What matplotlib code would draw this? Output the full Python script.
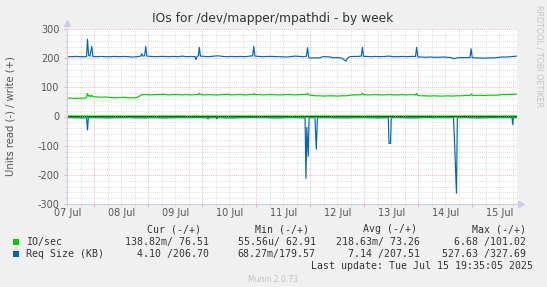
import matplotlib
matplotlib.use("Agg")
import matplotlib.pyplot as plt
from matplotlib.ticker import MultipleLocator, FixedLocator, NullFormatter
from matplotlib.patches import Rectangle

# ---------------- data ----------------
# time in hours since 07 Jul 00:00
t_start, t_end = 11.58, 211.58

wr_size_t = [11.6, 14, 16, 18, 20, 20.5, 20.9, 21.4, 22.0, 22.8, 23.3, 25, 27, 29, 31, 33, 35, 37, 39, 41, 43,
             44.6, 45.0, 45.5, 46.3, 46.8, 47.3, 49, 51, 53, 55, 57, 59, 61, 63, 65, 67, 68.7, 69.1, 69.5, 70.2,
             70.6, 71.1, 73, 75, 77, 79, 81, 83, 85, 87, 89, 91, 93, 94.3, 94.8, 95.3, 97, 99, 101, 103, 105,
             107, 109, 111, 113, 115, 117, 118.2, 118.7, 119.2, 120, 122, 124, 125.5, 127, 129, 130, 132, 134,
             135.8, 136.5, 137.5, 139, 141, 142.6, 143.1, 143.6, 145, 147, 149, 151, 153, 155, 157, 159, 161,
             163, 165, 166.7, 167.2, 167.7, 169, 171, 173, 175, 177, 179, 181, 182.5, 184, 185, 187, 189,
             190.9, 191.4, 191.9, 193, 195, 197, 199, 201, 203, 205, 207, 209, 211.5]
wr_size_v = [205, 205, 206, 205, 205, 206, 265, 210, 207, 240, 206, 205, 206, 205, 205, 206, 205, 206, 205, 204, 205,
             207, 215, 207, 208, 240, 207, 206, 205, 206, 206, 205, 206, 205, 207, 205, 206, 205, 195, 205, 208,
             237, 207, 206, 205, 207, 208, 206, 205, 206, 205, 206, 205, 207, 208, 240, 207, 206, 205, 206, 206, 205,
             205, 204, 205, 207, 206, 205, 207, 236, 203, 200, 201, 201, 205, 205, 204, 201, 202, 200,
             190, 200, 205, 206, 206, 207, 237, 206, 206, 205, 206, 205, 206, 207, 205, 205, 206,
             205, 206, 206, 237, 205, 204, 203, 204, 203, 203, 204, 203, 202, 198, 201, 202, 202,
             202, 232, 202, 201, 201, 200, 201, 201, 202, 204, 204, 205, 207]

wr_io_t = [11.6, 14, 16, 18, 20, 20.5, 20.9, 21.3, 21.8, 22.3, 22.8, 23.3, 25, 27, 29, 31, 33, 35, 37, 39, 41, 42.5,
           43.5, 44.5, 45, 47, 49, 51, 53, 55, 57, 59, 61, 63, 65, 67, 69, 70.2, 70.6, 71.1, 73, 75, 77, 79, 81,
           83, 85, 87, 89, 91, 93, 94.3, 94.8, 95.3, 97, 99, 101, 103, 105, 107, 109, 111, 113, 115, 117, 118.2,
           118.7, 119.2, 120, 122, 124, 126, 128, 130, 132, 134, 136, 137.5, 139, 141, 142.6, 143.1, 143.6, 145,
           147, 149, 151, 153, 155, 157, 159, 161, 163, 165, 166.7, 167.2, 167.7, 169, 171, 173, 175, 177, 179,
           181, 183, 185, 187, 189, 190.9, 191.4, 191.9, 193, 195, 197, 199, 201, 203, 205, 207, 209, 211.5]
wr_io_v = [63, 63, 62, 63, 63, 66, 79, 70, 72, 68, 73, 68, 67, 66, 67, 65, 64, 65, 66, 64, 64, 64,
           68, 72, 75, 75, 74, 75, 75, 76, 74, 75, 75, 74, 75, 74, 75, 75, 80, 75, 74, 75, 74, 74, 75,
           76, 74, 75, 75, 74, 75, 75, 79, 75, 75, 74, 75, 75, 74, 74, 75, 75, 74, 75, 75, 75,
           80, 74, 73, 71, 71, 70, 71, 71, 70, 71, 71, 73, 74, 74, 75, 80, 75, 74,
           74, 75, 74, 74, 75, 74, 74, 75, 74, 75, 74, 79, 72, 71, 71, 70, 71, 70, 70,
           71, 70, 71, 71, 72, 72, 77, 73, 72, 73, 72, 73, 73, 73, 75, 75, 76, 76.5]

rd_io_t = [11.6, 60, 110, 160, 211.5]
rd_io_v = [-0.2, -0.15, -0.3, -0.2, -0.14]

rd_size_t = [11.6, 14, 18, 20.5, 20.9, 21.3, 25, 30, 35, 40, 45, 50, 55, 60, 65, 70, 74.3, 74.5, 74.7, 78.2, 78.4,
             78.6, 85, 90, 95, 100, 105, 110, 115, 117.6, 118.0, 118.4, 119.0, 119.4, 122.0, 122.6, 123.1, 128,
             135, 140, 145, 150, 154.6, 154.9, 155.6, 155.9, 160, 165, 170, 175, 180, 183.6, 184.2, 184.9, 185.3,
             190, 195, 200, 205, 209.6, 209.9, 210.2, 211.5]
rd_size_v = [-4, -4, -5, -4, -46, -4, -4, -5, -4, -4, -5, -4, -5, -4, -4, -4, -4, -8, -4, -4, -8,
             -4, -5, -4, -4, -4, -5, -4, -4, -5, -212, -37, -137, -4, -4, -112, -4, -4,
             -5, -4, -4, -5, -4, -92, -92, -4, -4, -5, -4, -4, -4, -4, -120, -263, -4,
             -4, -5, -4, -4, -4, -28, -4, -4]

day_labels = ["07 Jul", "08 Jul", "09 Jul", "10 Jul", "11 Jul", "12 Jul", "13 Jul", "14 Jul", "15 Jul"]
y_ticks = [-300, -200, -100, 0, 100, 200, 300]

title = "IOs for /dev/mapper/mpathdi - by week"
ylabel = "Units read (-) / write (+)"
legend_headers = ["Cur (-/+)", "Min (-/+)", "Avg (-/+)", "Max (-/+)"]
legend_names = ["IO/sec", "Req Size (KB)"]
legend_colors = ["#00CC00", "#0066B3"]
legend_values = [
    ["138.82m/ 76.51", "55.56u/ 62.91", "218.63m/ 73.26", "6.68 /101.02"],
    ["4.10 /206.70", "68.27m/179.57", "7.14 /207.51", "527.63 /327.69"],
]
last_update = "Last update: Tue Jul 15 19:35:05 2025"
munin_ver = "Munin 2.0.73"
side_text = "RRDTOOL / TOBI OETIKER"

# ---------------- figure ----------------
W, H = 547, 287
fig = plt.figure(figsize=(W / 100, H / 100), dpi=100, facecolor="#F0F0F0")
ax = fig.add_axes([66.5 / W, 1 - 204 / H, 450 / W, 175 / H])
ax.set_facecolor("white")

ax.set_xlim(t_start, t_end)
ax.set_ylim(-300, 300)

# grid
ax.xaxis.set_major_locator(MultipleLocator(24))
ax.xaxis.set_minor_locator(MultipleLocator(6))
ax.yaxis.set_major_locator(FixedLocator(y_ticks))
ax.yaxis.set_minor_locator(MultipleLocator(20))
ax.xaxis.set_major_formatter(NullFormatter())
ax.grid(which="minor", color="#D2D2D2", lw=0.6, linestyle=(0, (1, 1.5)))
ax.grid(which="major", color="#F0A0A0", lw=0.6, linestyle=(0, (1, 1.5)))
ax.set_axisbelow(True)

ax.set_yticks(y_ticks)
ax.set_yticklabels([str(v) for v in y_ticks])
ax.tick_params(axis="y", which="major", length=2, width=0.6, color="#F0A0A0",
               labelsize=7, labelcolor="#555555", pad=3)
ax.tick_params(axis="both", which="minor", length=1.5, width=0.6, color="#C8C8C8")
ax.tick_params(axis="x", which="major", length=2, width=0.6, color="#F0A0A0")

sec = ax.secondary_xaxis("bottom")
sec.set_xticks([12 + 24 * i for i in range(len(day_labels))])
sec.set_xticklabels(day_labels)
sec.tick_params(length=0, labelsize=7, labelcolor="#555555", pad=3)
sec.spines["bottom"].set_visible(False)

for s in ["top", "right"]:
    ax.spines[s].set_visible(False)
for s in ["left", "bottom"]:
    ax.spines[s].set_color("#CCCCEE")
    ax.spines[s].set_linewidth(0.8)

# arrows on axes
ax.plot([0], [1.035], marker="^", color="#CCCCEE", markersize=4, transform=ax.transAxes, clip_on=False)
ax.plot([1.01], [0], marker=">", color="#CCCCEE", markersize=4, transform=ax.transAxes, clip_on=False)

# series
lw = 0.85
ax.plot(rd_size_t, rd_size_v, color=legend_colors[1], lw=lw)
ax.plot(rd_io_t, rd_io_v, color=legend_colors[0], lw=1.6)
ax.plot(wr_io_t, wr_io_v, color=legend_colors[0], lw=lw)
ax.plot(wr_size_t, wr_size_v, color=legend_colors[1], lw=lw)
ax.axhline(0.8, color="black", lw=0.7, linestyle=(0, (1, 1)))

# texts
fig.text(273 / W, 1 - 18.5 / H, title, ha="center", va="center", fontsize=8.8, color="#333333")
fig.text(10.5 / W, 1 - 116 / H, ylabel, ha="center", va="center", rotation=90, fontsize=7.2, color="#555555")
fig.text(539 / W, 1 - 5 / H, side_text, ha="center", va="top", rotation=270, fontsize=5.8, color="#C4C4C4")

mono = "DejaVu Sans Mono"
fs = 7.15
hdr_x = [200.6, 308.8, 417.0, 526.2]
val_x = [209.4, 315.8, 420.4, 526.2]
for x, h in zip(hdr_x, legend_headers):
    fig.text(x / W, 1 - 229 / H, h, ha="right", va="center", family=mono, fontsize=fs, color="#333333")
row_y = [242, 254]
for yy, name, col, vals in zip(row_y, legend_names, legend_colors, legend_values):
    fig.patches.append(Rectangle((13 / W, 1 - (yy + 3) / H), 6 / W, 6 / H,
                                 transform=fig.transFigure, facecolor=col, edgecolor="none"))
    fig.text(26.2 / W, 1 - yy / H, name, ha="left", va="center", family=mono, fontsize=fs, color="#333333")
    for x, v in zip(val_x, vals):
        fig.text(x / W, 1 - yy / H, v, ha="right", va="center", family=mono, fontsize=fs, color="#333333")
fig.text(532.8 / W, 1 - 266.3 / H, last_update, ha="right", va="center", family=mono, fontsize=fs, color="#333333")
fig.text(273 / W, 1 - 279.6 / H, munin_ver, ha="center", va="center", fontsize=5.5, color="#C0C0C0")

fig.savefig("out.png", dpi=100, facecolor=fig.get_facecolor())
